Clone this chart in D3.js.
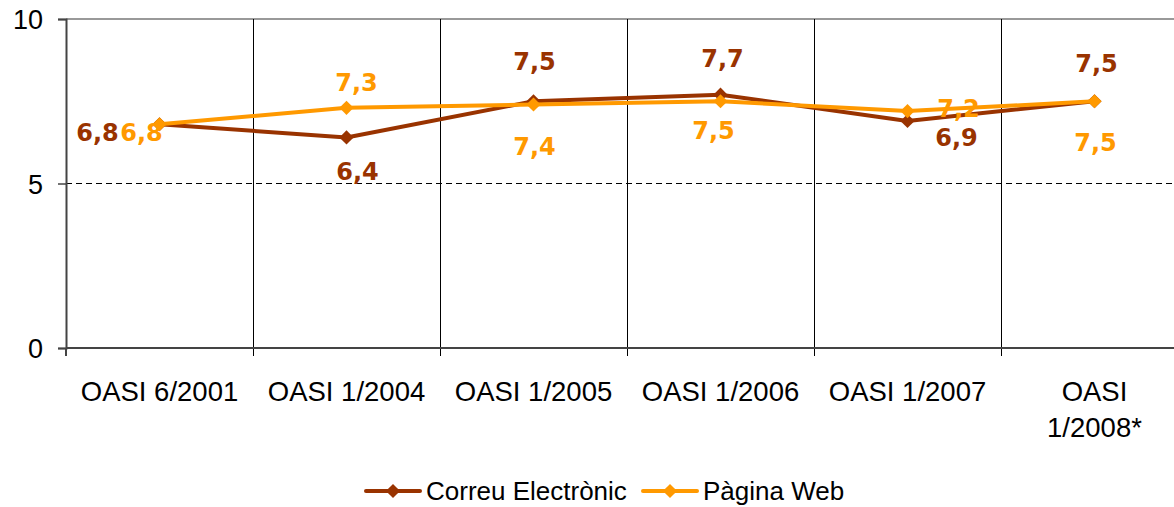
<!DOCTYPE html>
<html>
<head>
<meta charset="utf-8">
<script src="https://cdn.jsdelivr.net/npm/d3@7"></script>
<style>
  body { margin: 0; background: #fff; }
  text { font-family: "Liberation Sans", Arial, sans-serif; }
</style>
</head>
<body>
<svg id="chart"></svg>
<script>
const width = 1174;
const height = 507;

const categories = ['OASI 6/2001', 'OASI 1/2004', 'OASI 1/2005', 'OASI 1/2006', 'OASI 1/2007', 'OASI 1/2008*'];
const correu = [6.8, 6.4, 7.5, 7.7, 6.9, 7.5];
const web = [6.8, 7.3, 7.4, 7.5, 7.2, 7.5];
const yTicks = [0, 5, 10];
const seriesNames = ['Correu Electrònic', 'Pàgina Web'];

// value label offsets from each point [dx, dy to baseline]
const correuLabelOffset = [[-62, 17], [11, 43], [1, -31], [2, -28], [49, 25], [2, -29]];
const webLabelOffset = [[-18, 17], [10, -17], [1, 50], [-7, 38], [51, 6], [1, 50]];

const colors = ['#993300', '#FF9900'];

const plotLeft = 66, plotTop = 19, plotBottom = 348;
const band = 187;

const svg = d3.select('#chart').attr('width', width).attr('height', height);

const x = d3.scaleBand().domain(categories).range([plotLeft, plotLeft + band * categories.length]);
const y = d3.scaleLinear().domain([0, 10]).range([plotBottom, plotTop]);
const cx = d => x(d) + x.bandwidth() / 2;

// top gridline
svg.append('line').attr('x1', plotLeft).attr('x2', width).attr('y1', y(10)).attr('y2', y(10))
    .attr('stroke', '#999').attr('stroke-width', 2);
// dashed gridline at 5
svg.append('line').attr('x1', plotLeft).attr('x2', width).attr('y1', y(5)).attr('y2', y(5))
    .attr('stroke', '#000').attr('stroke-width', 1).attr('stroke-dasharray', '6,4');

// category separators
svg.selectAll('.sep').data(categories.slice(1)).enter().append('line')
    .attr('x1', d => Math.round(x(d)) + 0.5).attr('x2', d => Math.round(x(d)) + 0.5)
    .attr('y1', plotTop).attr('y2', plotBottom + 8)
    .attr('stroke', '#000').attr('stroke-width', 1);

// y axis
const yAxis = svg.append('g').attr('transform', `translate(${plotLeft},0)`)
    .call(d3.axisLeft(y).tickValues(yTicks).tickSize(8).tickPadding(15));
yAxis.select('.domain').attr('stroke', '#444').attr('stroke-width', 2);
yAxis.selectAll('.tick line').attr('stroke', '#444').attr('stroke-width', 1.5);
yAxis.selectAll('.tick text').attr('font-size', 27).attr('fill', '#000').attr('dy', '0.36em')
    .style('font-family', '"Liberation Sans", Arial, sans-serif');

// x axis line
svg.append('line').attr('x1', plotLeft).attr('x2', width).attr('y1', plotBottom).attr('y2', plotBottom)
    .attr('stroke', '#444').attr('stroke-width', 2);
svg.append('line').attr('x1', plotLeft).attr('x2', plotLeft).attr('y1', plotBottom).attr('y2', plotBottom + 8)
    .attr('stroke', '#444').attr('stroke-width', 2);

// x labels
const xl = svg.selectAll('.xl').data(categories).enter().append('text')
    .attr('text-anchor', 'middle').attr('font-size', 27.5).attr('fill', '#000')
    .attr('x', d => cx(d)).attr('y', 401);
xl.each(function (d, i) {
    const t = d3.select(this);
    if (i === categories.length - 1) {
        const parts = d.split(' ');
        t.append('tspan').attr('x', cx(d)).text(parts[0]);
        t.append('tspan').attr('x', cx(d)).attr('dy', 36).text(parts[1]);
    } else {
        t.text(d);
    }
});

const line = d3.line().x((d, i) => cx(categories[i])).y(d => y(d));
const diamond = d3.symbol().type(d3.symbolSquare).size(100);

const series = [correu, web];
series.forEach((vals, s) => {
    svg.append('path').datum(vals).attr('d', line)
        .attr('fill', 'none').attr('stroke', colors[s]).attr('stroke-width', 4)
        .attr('stroke-linejoin', 'round');
    svg.selectAll('.m' + s).data(vals).enter().append('path')
        .attr('d', diamond)
        .attr('transform', (d, i) => `translate(${cx(categories[i])},${y(d)}) rotate(45)`)
        .attr('fill', colors[s]);
});

const fmt = v => v.toFixed(1).replace('.', ',');
function labels(vals, offsets, s) {
    svg.selectAll('.lab' + s).data(vals).enter().append('text')
        .style('font-family', '"DejaVu Sans", Verdana, sans-serif')
        .attr('font-size', 24).attr('font-weight', 'bold').attr('fill', colors[s])
        .attr('text-anchor', 'middle')
        .attr('x', (d, i) => cx(categories[i]) + offsets[i][0])
        .attr('y', (d, i) => y(d) + offsets[i][1])
        .text(d => fmt(d));
}
labels(correu, correuLabelOffset, 0);
labels(web, webLabelOffset, 1);

// legend
const legendItems = [{name: seriesNames[0], x: 366}, {name: seriesNames[1], x: 643}];
const lg = svg.selectAll('.lg').data(legendItems).enter().append('g')
    .attr('transform', d => `translate(${d.x},491)`);
lg.append('line').attr('x1', 0).attr('x2', 54).attr('stroke', (d, i) => colors[i]).attr('stroke-width', 4)
    .attr('stroke-linecap', 'round');
lg.append('path').attr('d', diamond).attr('transform', 'translate(27,0) rotate(45)').attr('fill', (d, i) => colors[i]);
lg.append('text').attr('x', 60).attr('y', 9).attr('font-size', 26).attr('fill', '#000').text(d => d.name);
</script>
</body>
</html>
